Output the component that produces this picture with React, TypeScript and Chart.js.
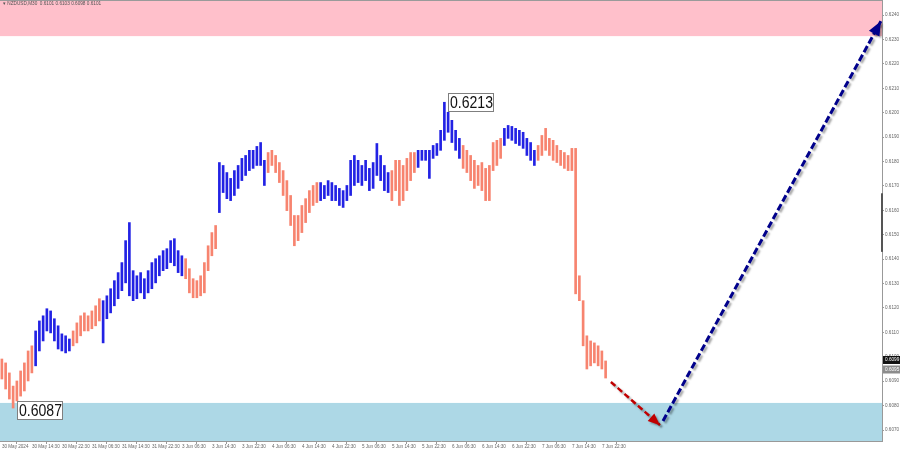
import { useEffect, useRef } from 'react';
import { Chart, registerables } from 'chart.js';

Chart.register(...registerables);

// ---- data ----
const timeLabels = [
  '30 May 2024', '30 May 14:30', '30 May 22:30', '31 May 06:30', '31 May 14:30', '31 May 22:30',
  '3 Jun 06:30', '3 Jun 14:30', '3 Jun 22:30', '4 Jun 06:30', '4 Jun 14:30', '4 Jun 22:30',
  '5 Jun 06:30', '5 Jun 14:30', '5 Jun 22:30', '6 Jun 06:30', '6 Jun 14:30', '6 Jun 22:30',
  '7 Jun 06:30', '7 Jun 14:30', '7 Jun 22:30',
];
const barsPerLabel = 8;

const priceTicks = [
  0.6070, 0.6080, 0.6090, 0.6100, 0.6110, 0.6120, 0.6130, 0.6140, 0.6150,
  0.6160, 0.6170, 0.6180, 0.6190, 0.6200, 0.6210, 0.6220, 0.6230, 0.6240,
];

const highs = [
  0.60991, 0.60975, 0.60934, 0.60880, 0.60901, 0.60942, 0.60975, 0.61024, 0.61045, 0.61106,
  0.61147, 0.61168, 0.61197, 0.61188, 0.61156, 0.61127, 0.61094, 0.61086, 0.61073, 0.61106,
  0.61139, 0.61168, 0.61180, 0.61168, 0.61188, 0.61209, 0.61238, 0.61230, 0.61250, 0.61279,
  0.61312, 0.61345, 0.61386, 0.61476, 0.61550, 0.61353, 0.61332, 0.61345, 0.61320, 0.61353,
  0.61386, 0.61402, 0.61414, 0.61435, 0.61443, 0.61476, 0.61484, 0.61435, 0.61414, 0.61402,
  0.61361, 0.61320, 0.61312, 0.61332, 0.61386, 0.61455, 0.61509, 0.61538, 0.61796, 0.61784,
  0.61755, 0.61731, 0.61763, 0.61784, 0.61813, 0.61825, 0.61846, 0.61846, 0.61862, 0.61878,
  0.61805, 0.61837, 0.61846, 0.61825, 0.61796, 0.61763, 0.61722, 0.61661, 0.61579, 0.61579,
  0.61620, 0.61648, 0.61681, 0.61702, 0.61714, 0.61714, 0.61702, 0.61722, 0.61714, 0.61702,
  0.61690, 0.61681, 0.61702, 0.61805, 0.61825, 0.61805, 0.61784, 0.61805, 0.61772, 0.61796,
  0.61874, 0.61825, 0.61784, 0.61755, 0.61763, 0.61805, 0.61805, 0.61784, 0.61813, 0.61837,
  0.61837, 0.61846, 0.61846, 0.61846, 0.61846, 0.61866, 0.61874, 0.61928, 0.62043, 0.62002,
  0.61969, 0.61928, 0.61895, 0.61866, 0.61846, 0.61825, 0.61805, 0.61784, 0.61796, 0.61772,
  0.61784, 0.61878, 0.61887, 0.61895, 0.61936, 0.61948, 0.61944, 0.61936, 0.61928, 0.61920,
  0.61895, 0.61878, 0.61846, 0.61866, 0.61907, 0.61936, 0.61895, 0.61887, 0.61866, 0.61846,
  0.61837, 0.61825, 0.61854, 0.61854, 0.61332, 0.61230, 0.61086, 0.61065, 0.61057, 0.61045,
  0.61024, 0.60983,
];

const lows = [
  0.60909, 0.60868, 0.60827, 0.60790, 0.60819, 0.60839, 0.60860, 0.60901, 0.60934, 0.60963,
  0.61024, 0.61065, 0.61106, 0.61098, 0.61065, 0.61032, 0.61024, 0.61016, 0.61024, 0.61045,
  0.61057, 0.61086, 0.61106, 0.61106, 0.61115, 0.61127, 0.61147, 0.61057, 0.61156, 0.61180,
  0.61209, 0.61238, 0.61271, 0.61303, 0.61250, 0.61230, 0.61238, 0.61262, 0.61238, 0.61262,
  0.61279, 0.61303, 0.61332, 0.61353, 0.61361, 0.61386, 0.61373, 0.61345, 0.61332, 0.61320,
  0.61262, 0.61242, 0.61242, 0.61250, 0.61262, 0.61353, 0.61414, 0.61443, 0.61591, 0.61673,
  0.61648, 0.61640, 0.61661, 0.61690, 0.61722, 0.61743, 0.61763, 0.61772, 0.61784, 0.61784,
  0.61702, 0.61755, 0.61784, 0.61755, 0.61714, 0.61661, 0.61599, 0.61538, 0.61455, 0.61476,
  0.61509, 0.61550, 0.61591, 0.61620, 0.61632, 0.61640, 0.61648, 0.61661, 0.61640, 0.61640,
  0.61620, 0.61612, 0.61640, 0.61661, 0.61702, 0.61714, 0.61702, 0.61722, 0.61681, 0.61690,
  0.61743, 0.61722, 0.61681, 0.61673, 0.61640, 0.61681, 0.61620, 0.61640, 0.61681, 0.61722,
  0.61755, 0.61776, 0.61805, 0.61805, 0.61731, 0.61813, 0.61825, 0.61846, 0.61887, 0.61920,
  0.61878, 0.61846, 0.61813, 0.61772, 0.61755, 0.61722, 0.61690, 0.61702, 0.61681, 0.61640,
  0.61640, 0.61763, 0.61784, 0.61813, 0.61866, 0.61895, 0.61887, 0.61874, 0.61866, 0.61854,
  0.61825, 0.61805, 0.61784, 0.61805, 0.61825, 0.61846, 0.61825, 0.61805, 0.61796, 0.61784,
  0.61772, 0.61763, 0.61763, 0.61258, 0.61230, 0.61045, 0.60950, 0.60963, 0.60975, 0.60963,
  0.60950, 0.60913,
];

// bar index where each wave segment starts (colours alternate, first = salmon)
const waveStarts = [0, 9, 19, 27, 49, 58, 71, 85, 104, 111, 123, 134, 143];

const resistanceZone = [0.62314, 0.6250];
const supportZone = [0.6060, 0.60811];

const forecastDown = [
  { x: 162.4, y: 0.60897 },
  { x: 175.5, y: 0.60720 },
];
const forecastUp = [
  { x: 176.3, y: 0.60737 },
  { x: 234.4, y: 0.62375 },
];

const peakLabel = { text: '0.6213', index: 118 };
const lowLabel = { text: '0.6087', index: 3 };
const headerText = '\u25BE NZDUSD,M30  0.6101 0.6103 0.6098 0.6101';
const priceMarkers = [0.60987, 0.60948];
const scrollMarker = [0.6167, 0.6143];

const yMin = 0.60655;
const yMax = 0.62462;
const xMin = -0.5;
const xMax = 234.7;

const BLUE = '#2222e4';
const SALMON = '#f7846f';
const SMALL_FONT = '"Liberation Sans", Arial, sans-serif';

function colorFor(i: number) {
  let k = 0;
  for (let j = 0; j < waveStarts.length; j++) if (i >= waveStarts[j]) k = j;
  return k % 2 === 0 ? SALMON : BLUE;
}

const overlayPlugin = {
  id: 'overlay',
  beforeDatasetsDraw(chart: any) {
    const { ctx, chartArea: a, scales } = chart;
    const y = scales.y;
    ctx.save();
    ctx.fillStyle = '#ffc0cb';
    const r0 = Math.max(a.top, y.getPixelForValue(resistanceZone[1]));
    const r1 = y.getPixelForValue(resistanceZone[0]);
    ctx.fillRect(a.left, r0, a.right - a.left, r1 - r0);
    ctx.fillStyle = '#add8e6';
    const s0 = y.getPixelForValue(supportZone[1]);
    const s1 = Math.min(a.bottom, y.getPixelForValue(supportZone[0]));
    ctx.fillRect(a.left, s0, a.right - a.left, s1 - s0);
    ctx.restore();
  },
  beforeDatasetDraw(chart: any, args: any) {
    if (args.index > 0) {
      const ctx = chart.ctx;
      ctx.save();
      ctx.shadowColor = 'rgba(0,0,0,0.35)';
      ctx.shadowOffsetX = 2;
      ctx.shadowOffsetY = 2;
      ctx.shadowBlur = 2;
    }
  },
  afterDatasetDraw(chart: any, args: any) {
    if (args.index > 0) chart.ctx.restore();
  },
  afterDatasetsDraw(chart: any) {
    const { ctx, chartArea: a, scales } = chart;
    const x = scales.x;
    const y = scales.y;
    ctx.save();

    // arrow heads
    const head = (pts: any[], color: string, len: number, wid: number) => {
      const sx = x.getPixelForValue(pts[0].x), sy = y.getPixelForValue(pts[0].y);
      const ex = x.getPixelForValue(pts[1].x), ey = y.getPixelForValue(pts[1].y);
      const dx = ex - sx, dy = ey - sy;
      const d = Math.hypot(dx, dy);
      const ux = dx / d, uy = dy / d;
      const bx = ex - ux * len, by = ey - uy * len;
      ctx.save();
      ctx.shadowColor = 'rgba(0,0,0,0.3)';
      ctx.shadowOffsetX = 2;
      ctx.shadowOffsetY = 2;
      ctx.shadowBlur = 2;
      ctx.fillStyle = color;
      ctx.beginPath();
      ctx.moveTo(ex, ey);
      ctx.lineTo(bx - uy * wid / 2, by + ux * wid / 2);
      ctx.lineTo(bx + uy * wid / 2, by - ux * wid / 2);
      ctx.closePath();
      ctx.fill();
      ctx.restore();
    };
    head(forecastDown, '#c00000', 12, 10);
    head(forecastUp, '#00008b', 14, 12);

    // boxed labels
    const boxLabel = (text: string, px: number, py: number) => {
      const w = 46, h = 19;
      ctx.fillStyle = '#ffffff';
      ctx.fillRect(px, py, w, h);
      ctx.strokeStyle = '#7f7f7f';
      ctx.lineWidth = 1;
      ctx.strokeRect(px + 0.5, py + 0.5, w - 1, h - 1);
      ctx.save();
      ctx.font = '17px "Liberation Sans", Arial, sans-serif';
      const tw = ctx.measureText(text).width;
      const sc = 43 / tw;
      ctx.translate(px + 2, py + h / 2 + 1);
      ctx.scale(sc, 1);
      ctx.fillStyle = '#111';
      ctx.textBaseline = 'middle';
      ctx.textAlign = 'left';
      ctx.fillText(text, 0, 0);
      ctx.restore();
    };
    const pkX = x.getPixelForValue(peakLabel.index);
    const pkY = y.getPixelForValue(highs[peakLabel.index]);
    boxLabel(peakLabel.text, Math.round(pkX + 4), Math.round(pkY - 9));
    const lwX = x.getPixelForValue(lowLabel.index);
    const lwY = y.getPixelForValue(lows[lowLabel.index]);
    boxLabel(lowLabel.text, Math.round(lwX + 4), Math.round(lwY - 7));

    // header
    ctx.font = '4.7px ' + SMALL_FONT;
    ctx.fillStyle = '#555';
    ctx.textBaseline = 'middle';
    ctx.textAlign = 'left';
    ctx.fillText(headerText, 3, a.top + 4);

    // frame
    ctx.strokeStyle = '#9a9a9a';
    ctx.lineWidth = 1;
    ctx.beginPath();
    ctx.moveTo(0, a.top + 0.5);
    ctx.lineTo(a.right, a.top + 0.5);
    ctx.stroke();

    // scroll marker on the axis
    ctx.fillStyle = '#555';
    const m0 = y.getPixelForValue(scrollMarker[0]);
    const m1 = y.getPixelForValue(scrollMarker[1]);
    ctx.fillRect(a.right - 1, m0, 2, m1 - m0);

    // price markers
    const markerStyles = [
      { bg: '#111111', fg: '#ffffff' },
      { bg: '#8c8c8c', fg: '#ffffff' },
    ];
    priceMarkers.forEach((p, i) => {
      const py = y.getPixelForValue(p);
      ctx.fillStyle = markerStyles[i].bg;
      ctx.fillRect(a.right + 1, py - 4, chart.width - a.right - 1, 8);
      ctx.fillStyle = markerStyles[i].fg;
      ctx.font = '4.7px ' + SMALL_FONT;
      ctx.textBaseline = 'middle';
      ctx.fillText(p.toFixed(4), a.right + 3, py);
    });
    ctx.restore();
  },
};

export default function App() {
  const ref = useRef<HTMLCanvasElement | null>(null);

  useEffect(() => {
    document.body.style.margin = '0';
    const canvas = ref.current;
    if (!canvas) return;

    const barData = highs.map((h, i) => ({ x: i, y: [lows[i], h] }));
    const barColors = highs.map((_, i) => colorFor(i));

    const chart = new Chart(canvas, {
      type: 'bar',
      data: {
        datasets: [
          {
            type: 'bar',
            data: barData as any,
            backgroundColor: barColors,
            borderWidth: 0,
            barThickness: 2,
            grouped: false,
          } as any,
          {
            type: 'line',
            data: forecastDown as any,
            borderColor: '#c00000',
            borderWidth: 2.5,
            borderDash: [6, 3],
            pointRadius: 0,
            fill: false,
          } as any,
          {
            type: 'line',
            data: forecastUp as any,
            borderColor: '#00008b',
            borderWidth: 3,
            borderDash: [7, 3],
            pointRadius: 0,
            fill: false,
          } as any,
        ],
      },
      options: {
        animation: false,
        responsive: false,
        devicePixelRatio: 1,
        layout: { padding: 0 },
        plugins: { legend: { display: false }, tooltip: { enabled: false } },
        scales: {
          x: {
            type: 'linear',
            min: xMin,
            max: xMax,
            bounds: 'data',
            offset: false,
            afterBuildTicks: (scale: any) => {
              scale.ticks = timeLabels.map((_, i) => ({ value: i * barsPerLabel }));
            },
            afterFit: (scale: any) => {
              scale.height = 12;
              scale.paddingLeft = 0;
              scale.paddingRight = 0;
            },
            ticks: {
              autoSkip: false,
              maxRotation: 0,
              minRotation: 0,
              align: 'start',
              padding: 0,
              color: '#666',
              font: { size: 4.6, family: SMALL_FONT },
              callback: (_v: any, i: number) => timeLabels[i],
            },
            grid: { drawOnChartArea: false, drawTicks: true, tickLength: 3, color: '#999' },
            border: { display: true, color: '#999' },
          },
          y: {
            type: 'linear',
            position: 'right',
            min: yMin,
            max: yMax,
            bounds: 'data',
            afterBuildTicks: (scale: any) => {
              scale.ticks = priceTicks.map((v) => ({ value: v }));
            },
            afterFit: (scale: any) => {
              scale.width = 18;
              scale.paddingTop = 0;
              scale.paddingBottom = 0;
            },
            ticks: {
              autoSkip: false,
              padding: 1,
              color: '#666',
              font: { size: 4.6, family: SMALL_FONT },
              callback: (v: any) => Number(v).toFixed(4),
            },
            grid: { drawOnChartArea: false, drawTicks: true, tickLength: 2, color: '#999' },
            border: { display: true, color: '#999' },
          },
        },
      },
      plugins: [overlayPlugin],
    });

    return () => chart.destroy();
  }, []);

  return (
    <div style={{ width: 900, height: 453, background: '#fff' }}>
      <canvas ref={ref} width={900} height={453} style={{ display: 'block', width: 900, height: 453 }} />
    </div>
  );
}
